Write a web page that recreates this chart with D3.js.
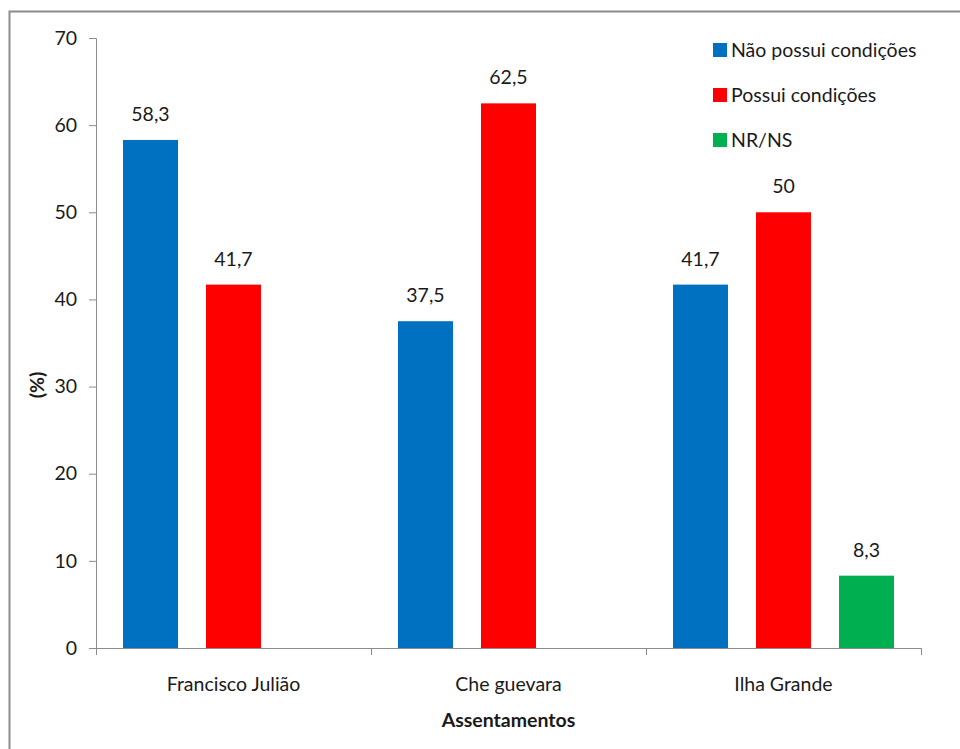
<!DOCTYPE html>
<html>
<head>
<meta charset="utf-8">
<script src="https://cdn.jsdelivr.net/npm/d3@7"></script>
<style>
  html, body { margin: 0; padding: 0; background: #fff; }
  svg { display: block; }
  text { font-family: "Lato", "Open Sans", sans-serif; fill: #1a1a1a; }
</style>
</head>
<body>
<svg id="chart" width="960" height="749"></svg>
<script>
// Assentamentos e percentuais por resposta
const categories = ["Francisco Julião", "Che guevara", "Ilha Grande"];
const seriesNames = ["Não possui condições", "Possui condições", "NR/NS"];
const seriesColors = ["#0070C0", "#FF0000", "#00B050"];
const naoPossui = [58.3, 37.5, 41.7];
const possui = [41.7, 62.5, 50];
const nrns = [0, 0, 8.3];
const yTicks = [0, 10, 20, 30, 40, 50, 60, 70];

const series = [naoPossui, possui, nrns];
const fmt = v => String(v).replace(".", ",");

const svg = d3.select("#chart");

// outer frame
svg.append("rect")
  .attr("x", 9.5).attr("y", 11.5)
  .attr("width", 1000).attr("height", 800)
  .attr("fill", "none").attr("stroke", "#8c8c8c").attr("stroke-width", 2);

const margin = { left: 96, right: 921, top: 38, bottom: 648 };

const x = d3.scaleBand().domain(categories).range([margin.left, margin.right]).paddingInner(0).paddingOuter(0);
const x1 = d3.scaleBand().domain(d3.range(seriesNames.length)).range([0, x.bandwidth()]).paddingInner(0.3373).paddingOuter(0.3253);
const y = d3.scaleLinear().domain([0, 70]).range([margin.bottom, margin.top]);

// y axis
const yAxis = d3.axisLeft(y).tickValues(yTicks).tickSize(7).tickPadding(12).tickFormat(d => d);
const gy = svg.append("g").attr("transform", `translate(${margin.left},0)`).call(yAxis);
gy.select(".domain").attr("stroke", "#8c8c8c");
gy.selectAll(".tick line").attr("stroke", "#8c8c8c");
gy.selectAll(".tick text").attr("font-size", 19.5).style("fill", "#1a1a1a");

// x axis with ticks at category boundaries
svg.append("line")
  .attr("x1", margin.left).attr("x2", margin.right)
  .attr("y1", margin.bottom + 0.5).attr("y2", margin.bottom + 0.5)
  .attr("stroke", "#8c8c8c");
const boundaries = categories.map(c => x(c)).concat([x(categories[categories.length - 1]) + x.bandwidth()]);
svg.selectAll(".xtick").data(boundaries).enter().append("line")
  .attr("x1", d => Math.round(d) + 0.5).attr("x2", d => Math.round(d) + 0.5)
  .attr("y1", margin.bottom).attr("y2", margin.bottom + 7)
  .attr("stroke", "#8c8c8c");
svg.selectAll(".xlabel").data(categories).enter().append("text")
  .attr("x", d => x(d) + x.bandwidth() / 2)
  .attr("y", margin.bottom + 43)
  .attr("text-anchor", "middle")
  .attr("font-size", 19.5)
  .text(d => d);

// bars and value labels
const groups = svg.selectAll(".grp").data(categories).enter().append("g")
  .attr("transform", d => `translate(${x(d)},0)`);

series.forEach((vals, si) => {
  groups.filter((d, i) => vals[i] > 0).append("rect")
    .attr("x", x1(si))
    .attr("width", x1.bandwidth())
    .attr("y", (d) => y(vals[categories.indexOf(d)]))
    .attr("height", (d) => margin.bottom - y(vals[categories.indexOf(d)]))
    .attr("fill", seriesColors[si]);
  groups.filter((d, i) => vals[i] > 0).append("text")
    .attr("x", x1(si) + x1.bandwidth() / 2)
    .attr("y", (d) => y(vals[categories.indexOf(d)]) - 19)
    .attr("text-anchor", "middle")
    .attr("font-size", 19.5)
    .text((d) => fmt(vals[categories.indexOf(d)]));
});

// axis titles
svg.append("text")
  .attr("transform", `translate(44,${(margin.top + margin.bottom) / 2 + 42}) rotate(-90)`)
  .attr("text-anchor", "middle")
  .attr("font-size", 19.5).attr("font-weight", "bold")
  .text("(%)");
svg.append("text")
  .attr("x", (margin.left + margin.right) / 2)
  .attr("y", 727)
  .attr("text-anchor", "middle")
  .attr("font-size", 19.5).attr("font-weight", "bold")
  .text("Assentamentos");

// legend
const legend = svg.append("g").attr("transform", "translate(713,43)");
seriesNames.forEach((name, i) => {
  const row = legend.append("g").attr("transform", `translate(0,${i * 45})`);
  row.append("rect").attr("width", 14).attr("height", 14).attr("fill", seriesColors[i]);
  row.append("text").attr("x", 18).attr("y", 14).attr("font-size", 19.5).text(name);
});
</script>
</body>
</html>
